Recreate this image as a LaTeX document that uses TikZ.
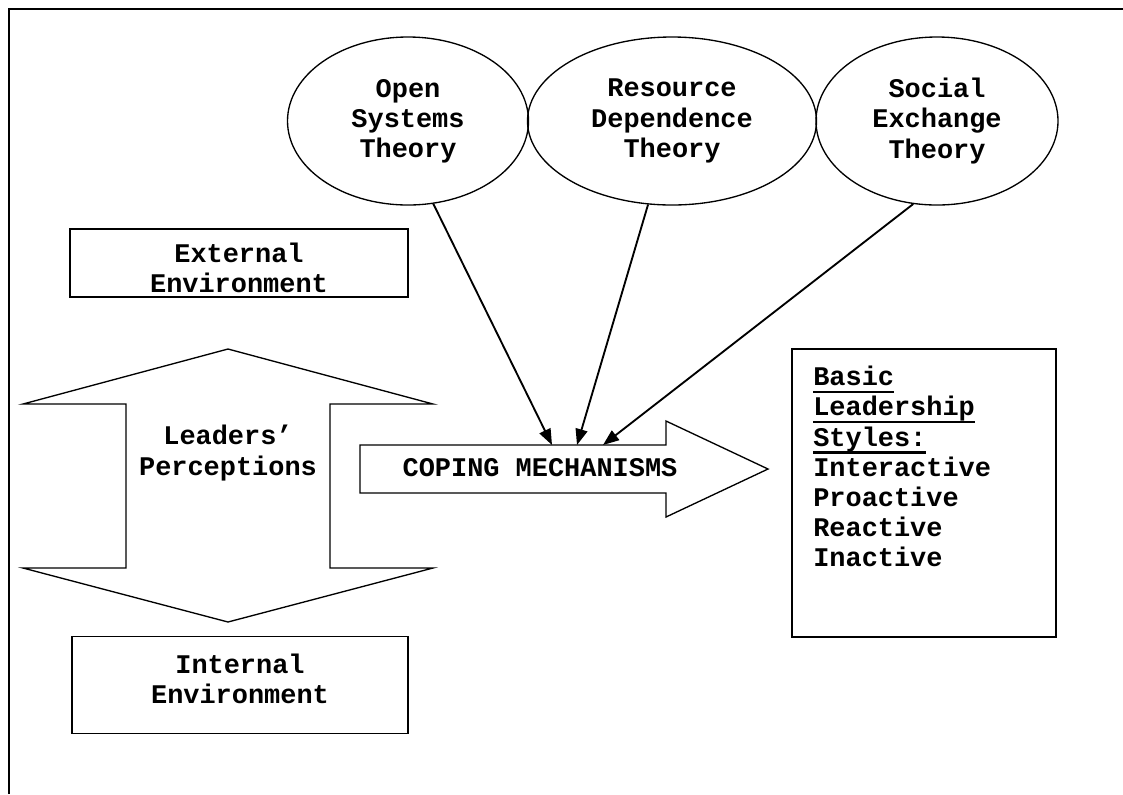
\documentclass[tikz,border=0pt]{standalone}
\usepackage{fontspec}
\setmonofont{Liberation Mono}
\usetikzlibrary{shapes.geometric,arrows.meta}
\newcommand{\px}{0.75pt}
\newcommand{\ulword}[1]{\setbox0\hbox{#1}\rlap{\vrule width\wd0 height -4pt depth 5.6pt}\box0}

\begin{document}
\begin{tikzpicture}
[x=0.75pt,y=-0.75pt,
  font=\ttfamily\bfseries\fontsize{20.2}{22.6}\selectfont,%
  theoryDecorate/.style={shape=ellipse,draw,line width=1pt,inner sep=0pt,
    minimum height=168*\px,align=center},%
  boxDecorate/.style={shape=rectangle,draw,line width=1.2pt,inner sep=0pt},%
  textDecorate/.style={inner sep=0pt,align=center},%
  blockDecorate/.style={draw,line width=1pt,line join=miter},%
  lineDecorate/.style={-{Triangle[length=12pt,width=9pt]},line width=1.4pt}]
\useasboundingbox (0,0) rectangle (1123,794);
%% frame
\draw[line width=1.5pt] (9,794) -- (9,9) -- (1123,9);
%% theories
\foreach \nodename/\x/\w/\txt in {
  ost/408/241/{Open\\Systems\\Theory},
  rdt/672/289/{Resource\\Dependence\\Theory},
  sxt/937/242/{Social\\Exchange\\Theory}}
{
  \node (\nodename) at (\x,121) [theoryDecorate,minimum width=\w*\px] {\txt};
}
%% boxes
\node (ext) at (239,263) [boxDecorate,minimum width=338*\px,minimum height=68*\px] {};
\node (extText) at (239,268) [textDecorate] {External\\Environment};
\node (int) at (240,685) [boxDecorate,minimum width=336*\px,minimum height=97*\px] {};
\node (intText) at (240,679) [textDecorate] {Internal\\Environment};
\node (basic) at (924,493) [boxDecorate,minimum width=264*\px,minimum height=288*\px] {};
\node (styles) at (813,366) [anchor=north west,inner sep=0pt,align=left]
  {\ulword{Basic}\\\ulword{Leadership}\\\ulword{Styles:}\\Interactive\\Proactive\\Reactive\\Inactive};
%% block arrows
\draw[blockDecorate] (126,404) -- (23,404) -- (228,349) -- (433,404) -- (330,404)
  -- (330,568) -- (433,568) -- (228,622) -- (23,568) -- (126,568) -- cycle;
\node (lead) at (228,453) [textDecorate] {Leaders’\\Perceptions};
\draw[blockDecorate] (360,445) -- (666,445) -- (666,421) -- (768,469)
  -- (666,517) -- (666,493) -- (360,493) -- cycle;
\node (cope) at (540,468) [textDecorate] {COPING MECHANISMS};
\coordinate (c1) at (552,445);
\coordinate (c2) at (577,445);
\coordinate (c3) at (603,445);
%% edges
\path
\foreach \startnode/\endnode in {
  ost.-73/c1, rdt.-106/c2, sxt.-106/c3}
{
  (\startnode) edge[lineDecorate] (\endnode)
};
\end{tikzpicture}
\end{document}
